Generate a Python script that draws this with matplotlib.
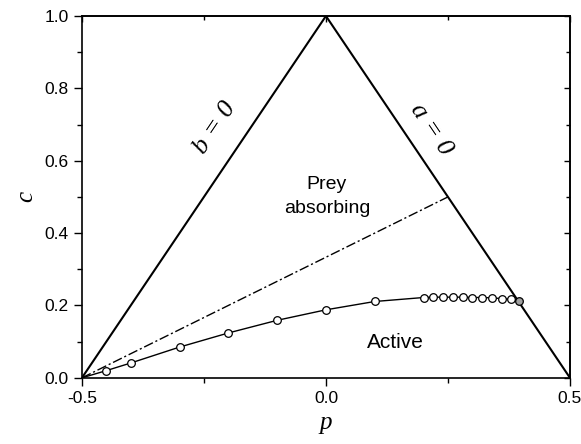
import matplotlib
matplotlib.use('Agg')
import matplotlib.pyplot as plt
import numpy as np

# boundary triangle (b = 0 and a = 0 lines)
tri_p = [-0.5, 0.0, 0.5]
tri_c = [0.0, 1.0, 0.0]

# dash-dot separatrix
sep_p = [-0.5, 0.25]
sep_c = [0.0, 0.5]

# transition line (open circles)
p_vals = [-0.5, -0.45, -0.4, -0.3, -0.2, -0.1, 0.0, 0.1,
          0.2, 0.22, 0.24, 0.26, 0.28, 0.30, 0.32, 0.34, 0.36, 0.38]
c_vals = [0.0, 0.020, 0.041, 0.085, 0.124, 0.159, 0.188, 0.211,
          0.222, 0.223, 0.223, 0.223, 0.223, 0.222, 0.222, 0.221, 0.219, 0.217]
# end point on a = 0 (grey)
end_p = [0.395]
end_c = [0.211]

plt.rcParams['font.family'] = ['Liberation Sans', 'DejaVu Sans']

fig = plt.figure(figsize=(5.81, 4.44), dpi=100)
ax = fig.add_axes([0.141, 0.149, 0.840, 0.815])

ax.plot(tri_p, tri_c, color='black', lw=1.5)
ax.plot(sep_p, sep_c, color='black', lw=1.0, linestyle=(0, (7, 2, 1.5, 2)))
ax.plot(p_vals + end_p, c_vals + end_c, color='black', lw=1.0)
ax.plot(p_vals[1:], c_vals[1:], 'o', color='black', mfc='white', ms=5.5, mew=0.9)
ax.plot(end_p, end_c, 'o', color='black', mfc='#a0a0a0', ms=5.5, mew=0.9)

ax.set_xlim(-0.5, 0.5)
ax.set_ylim(0, 1)
xmaj = [-0.5, 0.0, 0.5]
xmin = [-0.25, 0.25]
ymaj = np.arange(0, 1.01, 0.2)
ymin = np.arange(0.1, 1.0, 0.2)
ax.set_xticks(xmaj)
ax.set_xticks(xmin, minor=True)
ax.set_yticks(ymaj)
ax.set_yticks(ymin, minor=True)
ax.xaxis.set_major_formatter(matplotlib.ticker.FormatStrFormatter('%.1f'))
ax.yaxis.set_major_formatter(matplotlib.ticker.FormatStrFormatter('%.1f'))
ax.tick_params(which='both', direction='out', labelsize=12.5, width=1)
ax.tick_params(which='major', length=6)
ax.tick_params(which='minor', length=3.5)
for s in ax.spines.values():
    s.set_linewidth(1.2)

# inward ticks on top and right
top = ax.secondary_xaxis('top')
top.set_xticks(xmaj)
top.set_xticks(xmin, minor=True)
right = ax.secondary_yaxis('right')
right.set_yticks(ymaj)
right.set_yticks(ymin, minor=True)
for sec in (top, right):
    sec.tick_params(which='both', direction='in', width=1, labelleft=False,
                    labelright=False, labeltop=False, labelbottom=False)
    sec.tick_params(which='major', length=4)
    sec.tick_params(which='minor', length=3)
    for s in sec.spines.values():
        s.set_linewidth(1.2)

ax.set_xlabel('p', fontsize=18, family='Liberation Serif', style='italic', labelpad=4)
ax.set_ylabel('c', fontsize=18, family='Liberation Serif', style='italic', labelpad=5)

ax.text(-0.227, 0.69, 'b = 0', fontsize=19, family='Liberation Serif', style='italic',
        rotation=56, ha='center', va='center')
ax.text(0.215, 0.685, 'a = 0', fontsize=19, family='Liberation Serif', style='italic',
        rotation=-56, ha='center', va='center')
ax.text(0.002, 0.5, 'Prey\nabsorbing', fontsize=14, ha='center', va='center', linespacing=1.55)
ax.text(0.143, 0.097, 'Active', fontsize=15, ha='center', va='center')

fig.savefig('out.png', dpi=100)
